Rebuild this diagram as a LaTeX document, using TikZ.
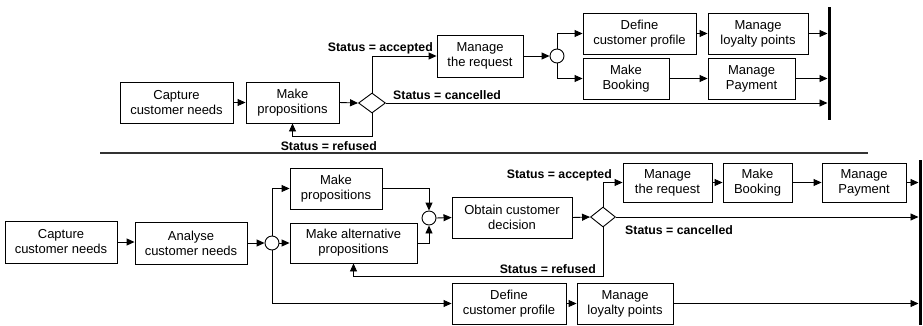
\documentclass[tikz,border=0pt]{standalone}
\usepackage{fontspec}
\setmainfont{Liberation Sans}
\usetikzlibrary{shapes.geometric,arrows.meta}

\begin{document}
\begin{tikzpicture}[x=1pt,y=1pt]
\tikzstyle{every node}+=[inner sep=0pt]
\tikzstyle{task}=[draw,line width=0.9pt,align=center,font=\fontsize{13}{15}\selectfont]
\tikzstyle{gate}=[draw,line width=0.9pt,diamond,minimum width=27pt,minimum height=20pt]
\tikzstyle{merge}=[draw,line width=0.9pt,circle,minimum size=14pt]
\tikzstyle{flow}=[line width=0.9pt,-{Triangle[length=8pt,width=7pt]}]
\tikzstyle{cond}=[font=\bfseries\fontsize{12.3}{14}\selectfont]
\useasboundingbox (0,0) rectangle (923,-325);
% upper process
\node [task,minimum width=113pt,minimum height=41pt] (cap1) at (176.5,-102.5) {Capture\\customer needs};
\node [task,minimum width=93pt,minimum height=41pt] (mkp1) at (292.5,-102.5) {Make\\propositions};
\node [gate] (dia1) at (372,-103) {};
\node [task,minimum width=86pt,minimum height=42pt] (req1) at (480,-56) {Manage\\the request};
\node [merge] (or1) at (557,-56) {};
\node [task,minimum width=113pt,minimum height=41pt] (prof1) at (639.5,-33.5) {Define\\customer profile};
\node [task,minimum width=100pt,minimum height=41pt] (loy1) at (758,-33.5) {Manage\\loyalty points};
\node [task,minimum width=86pt,minimum height=41pt] (book1) at (626,-78.5) {Make\\Booking};
\node [task,minimum width=87pt,minimum height=41pt] (pay1) at (751.5,-78.5) {Manage\\Payment};
\coordinate (bar1t) at (829,-7);
\coordinate (bar1b) at (829,-120);
\draw [line width=3pt] (bar1t) -- (bar1b);
\draw [flow] (cap1.east) -- (mkp1.west);
\draw [flow] (mkp1.east) -- (dia1.west);
\draw [flow] (dia1.north) |- (req1.west);
\draw [flow,shorten >=1.5pt] (dia1.east) -- (dia1.east -| bar1t);
\draw [flow] (dia1.south) -- ++(0,-23) -| (mkp1.south);
\draw [flow] (req1.east) -- (or1.west);
\draw [flow] (or1.north) |- (prof1.west);
\draw [flow] (or1.south) |- (book1.west);
\draw [flow] (prof1.east) -- (loy1.west);
\draw [flow] (book1.east) -- (pay1.west);
\draw [flow,shorten >=1.5pt] (loy1.east) -- (loy1.east -| bar1t);
\draw [flow,shorten >=1.5pt] (pay1.east) -- (pay1.east -| bar1t);
\node [cond,anchor=base east] (acc1) at (433,-51.5) {Status = accepted};
\node [cond,anchor=base west] (can1) at (393,-99) {Status = cancelled};
\node [cond,anchor=base east] (ref1) at (377,-150) {Status = refused};
% separator
\draw [line width=1.5pt,black!80] (100,-153) -- (868,-153);
% lower process
\node [task,minimum width=112pt,minimum height=42pt] (cap2) at (61,-242) {Capture\\customer needs};
\node [task,minimum width=112pt,minimum height=42pt] (ana2) at (191,-243) {Analyse\\customer needs};
\node [merge] (or2) at (272,-243) {};
\node [task,minimum width=92pt,minimum height=41pt] (mkp2) at (336,-188.5) {Make\\propositions};
\node [task,minimum width=127pt,minimum height=40pt] (alt2) at (353.5,-243) {Make alternative\\propositions};
\node [merge] (or3) at (429,-218) {};
\node [task,minimum width=120pt,minimum height=41pt] (obt2) at (512,-217.5) {Obtain customer\\decision};
\node [gate,minimum width=25pt] (dia2) at (603,-217) {};
\node [task,minimum width=89pt,minimum height=39pt] (req2) at (667.5,-182.5) {Manage\\the request};
\node [task,minimum width=69pt,minimum height=39pt] (book2) at (757.5,-182.5) {Make\\Booking};
\node [task,minimum width=84pt,minimum height=39pt] (pay2) at (864,-182.5) {Manage\\Payment};
\node [task,minimum width=114pt,minimum height=41pt] (prof2) at (509,-303.5) {Define\\customer profile};
\node [task,minimum width=96pt,minimum height=41pt] (loy2) at (625,-303.5) {Manage\\loyalty points};
\coordinate (bar2t) at (920,-160);
\coordinate (bar2b) at (920,-325);
\draw [line width=3pt] (bar2t) -- (bar2b);
\draw [flow] (cap2.east) -- (cap2.east -| ana2.west);
\draw [flow] (ana2.east) -- (or2.west);
\draw [flow] (or2.east) -- (alt2.west);
\draw [flow] (or2.north) |- (mkp2.west);
\draw [flow] (or2.south) |- (prof2.west);
\draw [flow] (mkp2.east) -| (or3.north);
\draw [flow] (alt2.east) -| (or3.south);
\draw [flow] (or3.east) -- (obt2.west);
\draw [flow] (obt2.east) -- (dia2.west);
\draw [flow] (dia2.north) |- (req2.west);
\draw [flow] (req2.east) -- (book2.west);
\draw [flow] (book2.east) -- (pay2.west);
\draw [flow,shorten >=1.5pt] (pay2.east) -- (pay2.east -| bar2t);
\draw [flow,shorten >=1.5pt] (dia2.east) -- (dia2.east -| bar2t);
\draw [flow] (dia2.south) -- ++(0,-49) -| (alt2.south);
\draw [flow] (prof2.east) -- (loy2.west);
\draw [flow,shorten >=1.5pt] (loy2.east) -- (loy2.east -| bar2t);
\node [cond,anchor=base east] (acc2) at (612,-178) {Status = accepted};
\node [cond,anchor=base west] (can2) at (625,-234) {Status = cancelled};
\node [cond,anchor=base east] (ref2) at (596,-273) {Status = refused};
\end{tikzpicture}
\end{document}
